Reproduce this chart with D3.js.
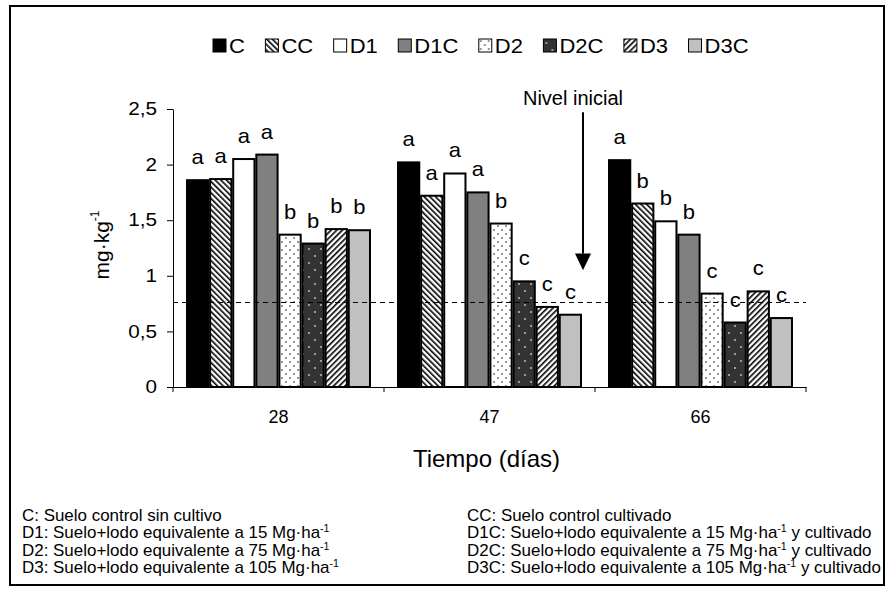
<!DOCTYPE html>
<html lang="es">
<head>
    <meta charset="UTF-8">
    <title>Nivel inicial - mg·kg-1</title>
    <style>
        body{ margin:0; background:#fff; }
        svg{ display:block; }
        text{ font-family: "Liberation Sans", Arial, sans-serif; fill:#000; }
        .axis text{ font-size: 18px; }
        .axis path, .axis line{ stroke:#000; stroke-width:1px; }
        .bar{ stroke:#000; stroke-width:2px; }
        .letter{ font-size: 20px; text-anchor: middle; }
        .legend text{ font-size: 20px; }
        .note{ font-size: 16px; }
    </style>
    <script src="https://cdn.jsdelivr.net/npm/d3@7"></script>
</head>
<body>
<script>

    // data
    const days = ["28", "47", "66"];
    const treatments = ["C", "CC", "D1", "D1C", "D2", "D2C", "D3", "D3C"];

    const valC   = [1.86, 2.02, 2.04];
    const valCC  = [1.87, 1.72, 1.65];
    const valD1  = [2.05, 1.92, 1.49];
    const valD1C = [2.09, 1.75, 1.37];
    const valD2  = [1.37, 1.47, 0.84];
    const valD2C = [1.29, 0.95, 0.58];
    const valD3  = [1.42, 0.72, 0.86];
    const valD3C = [1.41, 0.65, 0.62];

    const letC   = ["a", "a", "a"];
    const letCC  = ["a", "a", "b"];
    const letD1  = ["a", "a", "b"];
    const letD1C = ["a", "a", "b"];
    const letD2  = ["b", "b", "c"];
    const letD2C = ["b", "c", "c"];
    const letD3  = ["b", "c", "c"];
    const letD3C = ["b", "c", "c"];

    const yTicks = [0, 0.5, 1, 1.5, 2, 2.5];
    const initialLevel = 0.76;

    const notesLeft = [
        ["C: Suelo control sin cultivo", "", ""],
        ["D1: Suelo+lodo equivalente a 15 Mg·ha", "-1", ""],
        ["D2: Suelo+lodo equivalente a 75 Mg·ha", "-1", ""],
        ["D3: Suelo+lodo equivalente a 105 Mg·ha", "-1", ""]
    ];
    const notesRight = [
        ["CC: Suelo control cultivado", "", ""],
        ["D1C: Suelo+lodo equivalente a 15 Mg·ha", "-1", " y cultivado"],
        ["D2C: Suelo+lodo equivalente  a 75 Mg·ha", "-1", " y cultivado"],
        ["D3C: Suelo+lodo equivalente a 105 Mg·ha", "-1", " y cultivado"]
    ];

    const series = {C: valC, CC: valCC, D1: valD1, D1C: valD1C, D2: valD2, D2C: valD2C, D3: valD3, D3C: valD3C};
    const letters = {C: letC, CC: letCC, D1: letD1, D1C: letD1C, D2: letD2, D2C: letD2C, D3: letD3, D3C: letD3C};

    const width = 891;
    const height = 596;
    const margins = {top: 109, bottom: 209, left: 173, right: 85};
    // the picture's lettering is a bit wider than Arial
    const stretch = 1.1;

    const svg = d3.select("body").append("svg")
        .attr("width", width)
        .attr("height", height);

    // patterns
    const defs = svg.append("defs");
    function stripes(id, angle){
        const p = defs.append("pattern")
            .attr("id", id)
            .attr("patternUnits", "userSpaceOnUse")
            .attr("width", 4).attr("height", 4)
            .attr("patternTransform", `rotate(${angle})`);
        p.append("rect").attr("width", 4).attr("height", 4).attr("fill", "#fff");
        p.append("rect").attr("width", 1.6).attr("height", 4).attr("fill", "#000");
    }
    stripes("pCC", -45);
    stripes("pD3", 45);

    const pD2 = defs.append("pattern")
        .attr("id", "pD2").attr("patternUnits", "userSpaceOnUse")
        .attr("width", 8).attr("height", 8);
    pD2.append("rect").attr("width", 8).attr("height", 8).attr("fill", "#fff");
    pD2.append("circle").attr("cx", 2).attr("cy", 2).attr("r", 0.9).attr("fill", "#666");
    pD2.append("circle").attr("cx", 6).attr("cy", 6).attr("r", 0.9).attr("fill", "#666");

    const pD2C = defs.append("pattern")
        .attr("id", "pD2C").attr("patternUnits", "userSpaceOnUse")
        .attr("width", 12).attr("height", 14);
    pD2C.append("rect").attr("width", 12).attr("height", 14).attr("fill", "#333");
    pD2C.append("circle").attr("cx", 3).attr("cy", 4).attr("r", 1).attr("fill", "#bbb");
    pD2C.append("circle").attr("cx", 9).attr("cy", 11).attr("r", 1).attr("fill", "#bbb");

    const fills = {
        C: "#000", CC: "url(#pCC)", D1: "#fff", D1C: "#808080",
        D2: "url(#pD2)", D2C: "url(#pD2C)", D3: "url(#pD3)", D3C: "#c0c0c0"
    };

    // frame
    svg.append("rect")
        .attr("x", 10).attr("y", 6)
        .attr("width", 874).attr("height", 579)
        .attr("fill", "none").attr("stroke", "#000").attr("stroke-width", 2);

    // scales
    const x0 = d3.scaleBand()
        .domain(days)
        .range([margins.left, width - margins.right]);
    const x1 = d3.scaleBand()
        .domain(treatments)
        .range([14, x0.bandwidth() - 14])
        .paddingInner(0.08);
    const yScale = d3.scaleLinear()
        .domain([0, 2.5])
        .range([height - margins.bottom, margins.top]);

    // axes
    const yAxisG = svg.append("g").attr("class", "axis")
        .attr("transform", `translate(${margins.left},0)`)
        .call(d3.axisLeft(yScale).tickValues(yTicks).tickSize(6).tickSizeOuter(0).tickPadding(10)
            .tickFormat(d => String(d).replace(".", ",")));
    yAxisG.selectAll(".tick text")
        .attr("x", -16 / 1.15)
        .attr("transform", "scale(1.15,1)");

    const xAxisG = svg.append("g").attr("class", "axis")
        .attr("transform", `translate(0,${height - margins.bottom})`)
        .call(d3.axisBottom(x0).tickSize(0).tickPadding(23));
    xAxisG.selectAll(".boundary")
        .data(days.map(d => x0(d)).concat([x0.range()[1]]))
        .enter().append("line")
        .attr("class", "boundary")
        .attr("x1", d => d).attr("x2", d => d)
        .attr("y1", 0).attr("y2", 5)
        .attr("stroke", "#000");

    // bars
    const rows = [];
    days.forEach((day, i) => treatments.forEach(t => {
        rows.push({day: day, t: t, v: series[t][i], l: letters[t][i]});
    }));

    svg.append("g").selectAll("rect")
        .data(rows)
        .enter().append("rect")
        .attr("class", "bar")
        .attr("x", d => x0(d.day) + x1(d.t))
        .attr("y", d => yScale(d.v))
        .attr("width", x1.bandwidth())
        .attr("height", d => yScale(0) - yScale(d.v))
        .attr("fill", d => fills[d.t]);

    // dashed initial level, drawn over the bars
    svg.append("line")
        .attr("x1", x0.range()[0]).attr("x2", x0.range()[1])
        .attr("y1", yScale(initialLevel)).attr("y2", yScale(initialLevel))
        .attr("stroke", "#000").attr("stroke-dasharray", "5,4");

    svg.append("g").selectAll("text")
        .data(rows)
        .enter().append("text")
        .attr("class", "letter")
        .attr("transform", d => `translate(${x0(d.day) + x1(d.t) + x1.bandwidth() / 2},${yScale(d.v) - 16}) scale(${stretch},1)`)
        .text(d => d.l);

    // axis titles
    svg.append("text")
        .attr("x", (x0.range()[0] + x0.range()[1]) / 2 - 3)
        .attr("y", 467)
        .attr("text-anchor", "middle")
        .style("font-size", "24px")
        .text("Tiempo (días)");

    const yTitle = svg.append("text")
        .attr("transform", `translate(109,${(yScale(0) + yScale(2.5)) / 2 - 3}) rotate(-90)`)
        .attr("text-anchor", "middle")
        .style("font-size", "21px");
    yTitle.append("tspan").text("mg·kg");
    yTitle.append("tspan").attr("dy", -10).style("font-size", "12px").text("-1");

    // annotation
    const arrowX = x0("66") - 12;
    svg.append("text")
        .attr("x", arrowX - 10).attr("y", 105)
        .attr("text-anchor", "middle")
        .style("font-size", "20px")
        .text("Nivel inicial");
    svg.append("line")
        .attr("x1", arrowX).attr("x2", arrowX)
        .attr("y1", yScale(2.47)).attr("y2", yScale(1.2))
        .attr("stroke", "#000").attr("stroke-width", 2);
    svg.append("path")
        .attr("d", `M${arrowX - 8},${yScale(1.2)} L${arrowX + 8},${yScale(1.2)} L${arrowX},${yScale(1.05)} Z`)
        .attr("fill", "#000");

    // legend
    const legend = svg.append("g").attr("class", "legend")
        .attr("transform", "translate(213,39)");
    let lx = 0;
    treatments.forEach(t => {
        const item = legend.append("g").attr("transform", `translate(${lx},0)`);
        item.append("rect")
            .attr("width", 13).attr("height", 13)
            .attr("fill", fills[t]).attr("stroke", "#000").attr("stroke-width", 1);
        const txt = item.append("text")
            .attr("transform", `translate(16,14) scale(${stretch},1)`)
            .text(t);
        lx += 16 + txt.node().getComputedTextLength() * stretch + 20.5;
    });

    // footnotes
    function notes(list, x){
        const g = svg.append("g").attr("transform", `translate(${x},0) scale(1.06,1)`);
        list.forEach((n, i) => {
            const t = g.append("text")
                .attr("class", "note")
                .attr("x", 0).attr("y", 521 + i * 17.5);
            t.append("tspan").text(n[0]);
            if(n[1]){
                t.append("tspan").attr("dy", -6).style("font-size", "10px").text(n[1]);
                t.append("tspan").attr("dy", 6).text(n[2]);
            }
        });
    }
    notes(notesLeft, 22);
    notes(notesRight, 467);

</script>
</body>
</html>
